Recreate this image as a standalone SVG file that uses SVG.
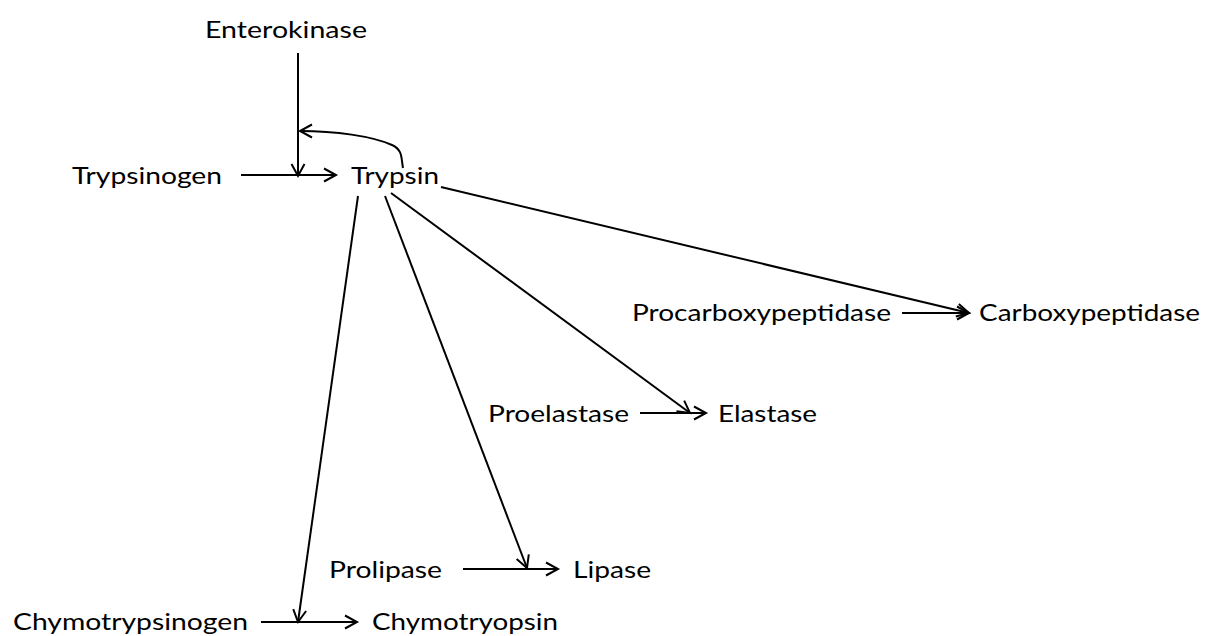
<svg xmlns="http://www.w3.org/2000/svg" width="1206" height="636" viewBox="0 0 1206 636">
<style>
text{font-family:Lato,"Open Sans","Liberation Sans",sans-serif;font-size:24px;fill:#000}
.c{fill:none;stroke:#000;stroke-width:2}
</style>
<defs>
<marker id="ah" markerUnits="userSpaceOnUse" markerWidth="16" markerHeight="16" refX="13" refY="7" orient="auto" viewBox="0 0 16 14">
<path d="M1,0.5 L13,7 L1,13.5" fill="none" stroke="#000" stroke-width="2"/>
</marker>
</defs>
<rect width="1206" height="636" fill="#fff"/>
<g id="enterokinase"><text x="205" y="38" textLength="162" lengthAdjust="spacingAndGlyphs">Enterokinase</text></g>
<g id="trypsinogen"><text x="72" y="184" textLength="150" lengthAdjust="spacingAndGlyphs">Trypsinogen</text></g>
<g id="trypsin"><text x="351" y="184" textLength="88" lengthAdjust="spacingAndGlyphs">Trypsin</text></g>
<g id="procarboxypeptidase"><text x="632" y="321" textLength="259" lengthAdjust="spacingAndGlyphs">Procarboxypeptidase</text></g>
<g id="carboxypeptidase"><text x="979" y="321" textLength="221" lengthAdjust="spacingAndGlyphs">Carboxypeptidase</text></g>
<g id="proelastase"><text x="488" y="422" textLength="141" lengthAdjust="spacingAndGlyphs">Proelastase</text></g>
<g id="elastase"><text x="718" y="422" textLength="99" lengthAdjust="spacingAndGlyphs">Elastase</text></g>
<g id="prolipase"><text x="329" y="578" textLength="113" lengthAdjust="spacingAndGlyphs">Prolipase</text></g>
<g id="lipase"><text x="573" y="578" textLength="78" lengthAdjust="spacingAndGlyphs">Lipase</text></g>
<g id="chymotrypsinogen"><text x="13" y="630" textLength="235" lengthAdjust="spacingAndGlyphs">Chymotrypsinogen</text></g>
<g id="chymotryopsin"><text x="372" y="630" textLength="186" lengthAdjust="spacingAndGlyphs">Chymotryopsin</text></g>
<g id="connectors" class="c">
<path class="c" d="M298,53 V176" marker-end="url(#ah)"/>
<path class="c" d="M241,175 H336" marker-end="url(#ah)"/>
<path class="c" d="M403,168 C401,158 403,150 392,145 C372,136 335,131 300,131" marker-end="url(#ah)"/>
<path class="c" d="M441,187 L969,313" marker-end="url(#ah)"/>
<path class="c" d="M902,313 H969" marker-end="url(#ah)"/>
<path class="c" d="M391,193 L690,413" marker-end="url(#ah)"/>
<path class="c" d="M640,413 H706" marker-end="url(#ah)"/>
<path class="c" d="M385,196 L527,568" marker-end="url(#ah)"/>
<path class="c" d="M463,569 H558" marker-end="url(#ah)"/>
<path class="c" d="M358,196 L298,622" marker-end="url(#ah)"/>
<path class="c" d="M261,622 H357" marker-end="url(#ah)"/>
</g>
</svg>
